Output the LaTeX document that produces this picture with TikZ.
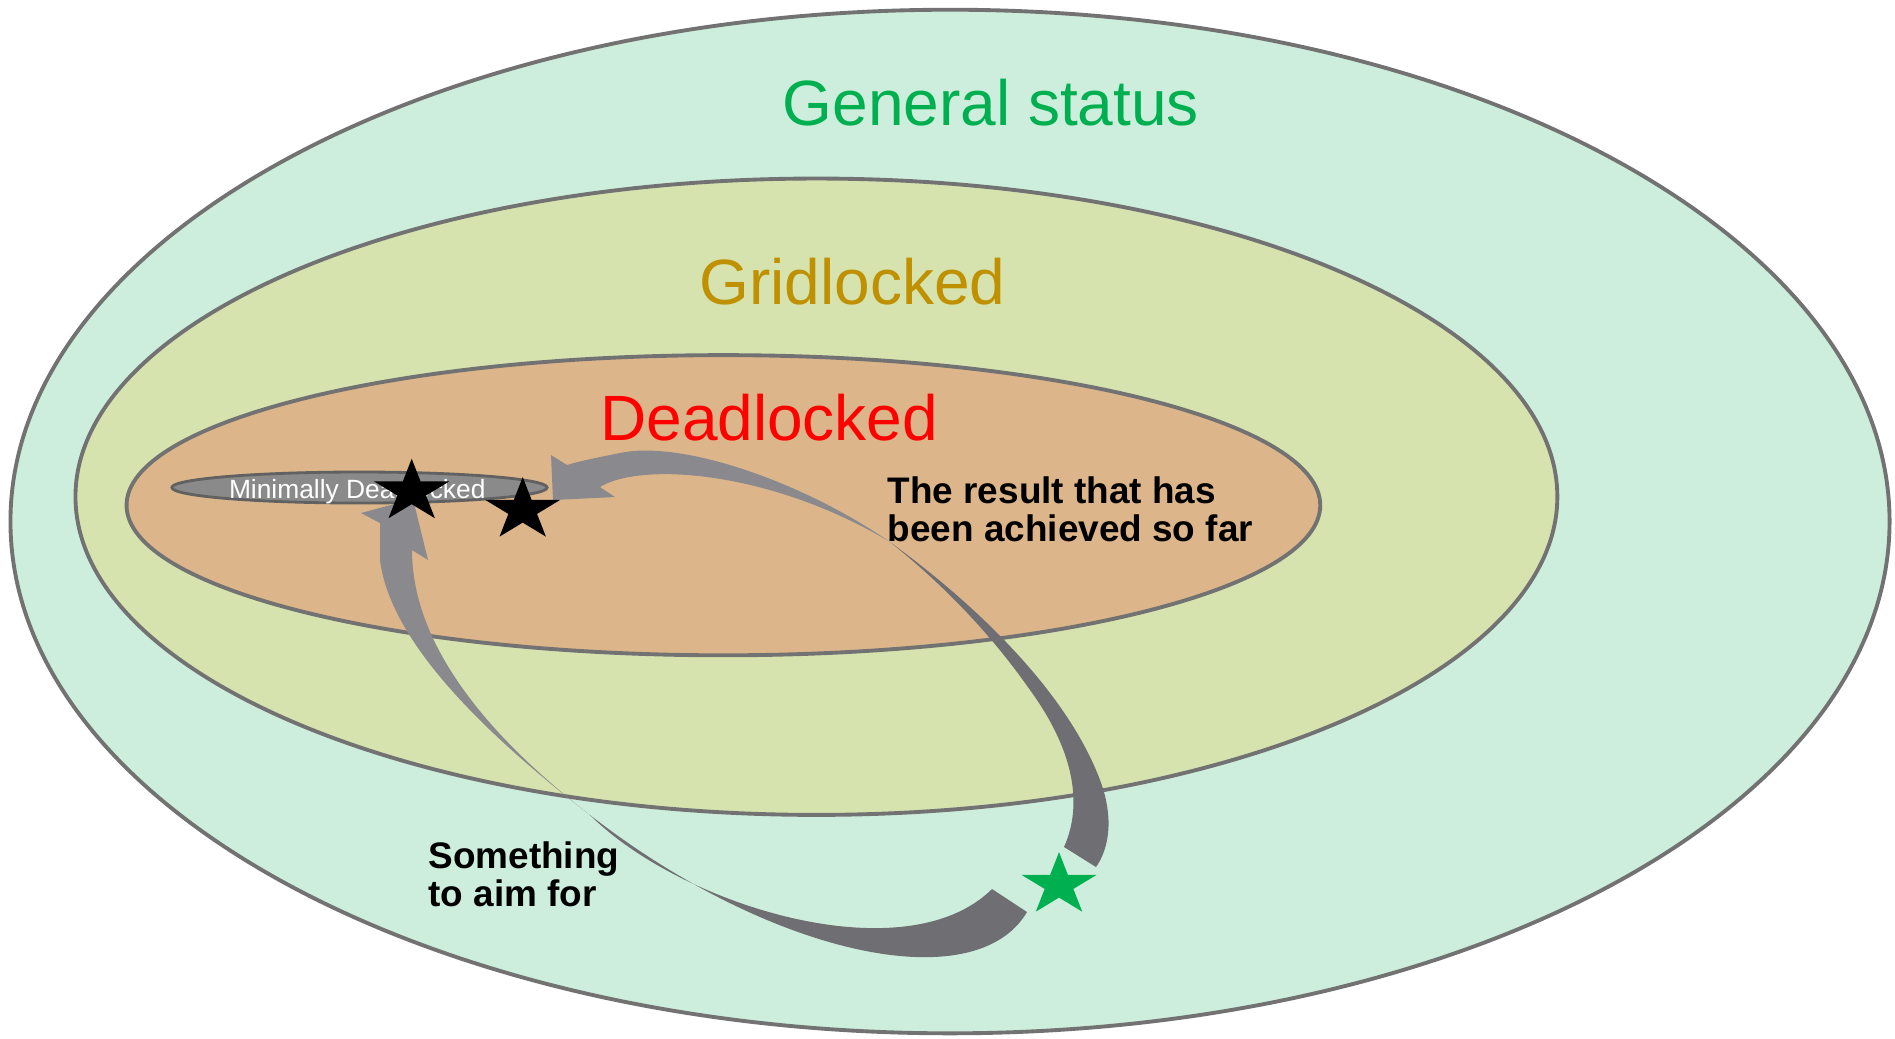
\documentclass[tikz,border=0pt]{standalone}
\usepackage{fontspec}
\setmainfont{Liberation Sans}
\usetikzlibrary{shapes.geometric}

\definecolor{statusfill}{HTML}{CDEEDC}
\definecolor{gridfill}{HTML}{D6E3AF}
\definecolor{deadfill}{HTML}{DCB68A}
\definecolor{minfill}{HTML}{8A8A8A}
\definecolor{rimgray}{HTML}{727272}
\definecolor{arrowlight}{HTML}{8A898D}
\definecolor{arrowdark}{HTML}{6F6E72}
\definecolor{statusgreen}{HTML}{00B050}
\definecolor{gridgold}{HTML}{BF9000}

% five pointed star, a bit wider than high: x, y, colour
\newcommand{\fivestar}[3]{%
  \fill[#3, shift={(#1,#2)}, xscale=1.2] (0,-32.9)
    \foreach \k in {1,...,9} {
      -- ({(mod(\k,2)==0 ? 32.9 : 12.57)*sin(36*\k)}, {-(mod(\k,2)==0 ? 32.9 : 12.57)*cos(36*\k)})
    } -- cycle;}

\begin{document}
\begin{tikzpicture}[x=0.01cm, y=-0.01cm,
  region/.style={ellipse, draw=rimgray, line width=1.1pt, inner sep=0},
  title/.style={anchor=base west, inner sep=0, font=\fontsize{18.2}{20}\selectfont},
  remark/.style={anchor=base west, inner sep=0, align=left, font=\fontsize{10.5}{11}\selectfont\bfseries}]

\useasboundingbox (0,0) rectangle (1895,1038);

% the nested sets
\node[region, fill=statusfill, minimum width=18.78cm, minimum height=10.23cm] (status) at (950,521.5) {};
\node[region, fill=gridfill, minimum width=14.81cm, minimum height=6.36cm] (gridlock) at (816.4,496.7) {};
\node[region, fill=deadfill, minimum width=11.93cm, minimum height=3.0cm] (deadlock) at (723.4,505.2) {};
\node[region, fill=minfill, draw=rimgray!85!black, line width=0.8pt, minimum width=3.75cm, minimum height=0.31cm] (minimal) at (359.5,487.5) {};
\node[anchor=base west, inner sep=0, text=white, font=\fontsize{7.5}{9}\selectfont] (minlabel) at (228.3,498.3) {Minimally Deadlocked};

% arrow to the result so far
\fill[arrowlight] (890,542) .. controls (800,480) and (680,440) .. (620,453)
  .. controls (595,458) and (580,461) .. (567,465)
  -- (551,455) -- (553,500) -- (615,497) -- (600,487)
  .. controls (640,462) and (770,470) .. (890,542) -- cycle;
\fill[arrowdark] (890,542) .. controls (990,615) and (1070,700) .. (1100,780)
  .. controls (1115,820) and (1108,850) .. (1096,867) -- (1064,847)
  .. controls (1085,800) and (1070,745) .. (1030,690)
  .. controls (995,640) and (950,590) .. (890,542) -- cycle;

% arrow to the aim
\fill[arrowlight] (590,815) .. controls (480,730) and (390,640) .. (380,560)
  -- (380,523) -- (361,513) -- (413,499) -- (428,560) -- (412,550)
  .. controls (412,640) and (480,730) .. (590,815) -- cycle;
\fill[arrowdark] (590,815) .. controls (680,905) and (905,975) .. (992,889)
  -- (1027,912) .. controls (975,1000) and (770,955) .. (590,815) -- cycle;

% stars
\fivestar{411.7}{491.6}{black}
\fivestar{522.7}{510}{black}
\fivestar{1059}{885}{statusgreen}

% labels
\node[title, text=statusgreen] (generallabel) at (782,125.7) {General status};
\node[title, text=gridgold] (gridlabel) at (698.6,304.6) {Gridlocked};
\node[title, text=red] (deadlabel) at (599.5,440) {Deadlocked};
\node[remark] (achieved) at (887,541.7) {The result that has\\been achieved so far};
\node[remark] (aim) at (427.8,906.7) {Something\\to aim for};

\end{tikzpicture}
\end{document}
